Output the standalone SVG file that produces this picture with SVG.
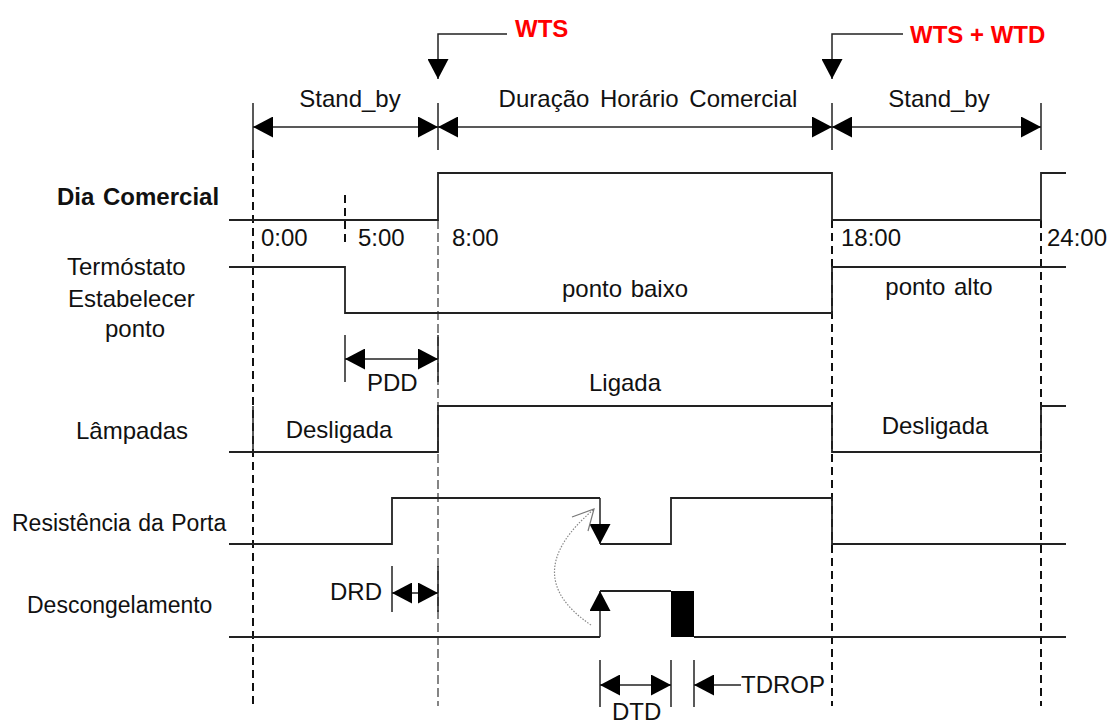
<svg xmlns="http://www.w3.org/2000/svg" width="1114" height="726" viewBox="0 0 1114 726">
<defs>
<marker id="ah" viewBox="0 0 20 21" refX="20" refY="10.5" markerWidth="20" markerHeight="21" markerUnits="userSpaceOnUse" orient="auto-start-reverse">
<path d="M0,0 L20,10.5 L0,21 z" fill="#000"/>
</marker>
</defs>
<style>
.t{font-family:"Liberation Sans",Arial,sans-serif;font-size:24px;fill:#111}
.s{font-size:23px}
.b{font-weight:bold}
.r{font-family:"Liberation Sans",Arial,sans-serif;font-size:24px;font-weight:bold;fill:#ff0000}
.w{fill:none;stroke:#222;stroke-width:1.8}
.d{fill:none;stroke:#111;stroke-width:2;stroke-dasharray:8 5}
.d2{fill:none;stroke:#444;stroke-width:1.3;stroke-dasharray:9 4}
.k{fill:none;stroke:#222;stroke-width:1.5}
.a{fill:none;stroke:#222;stroke-width:1.5;marker-start:url(#ah);marker-end:url(#ah)}
.a1{fill:none;stroke:#222;stroke-width:1.5;marker-end:url(#ah)}
</style>
<rect width="1114" height="726" fill="#fff"/>

<g id="gridlines">
<line class="d" x1="253" y1="150" x2="253" y2="706"/>
<line class="d" x1="345" y1="195" x2="345" y2="242"/>
<line class="d2" x1="438" y1="220" x2="438" y2="706"/>
<line class="d" x1="832" y1="220" x2="832" y2="706"/>
<line class="d" x1="1041" y1="220" x2="1041" y2="706"/>
</g>

<g id="dia-comercial">
<text class="t b" x="57" y="205" word-spacing="2">Dia Comercial</text>
<path class="w" d="M229,220 H438 V173 H832 V220 H1041 V173 H1066"/>
<text class="t" x="261" y="246">0:00</text>
<text class="t" x="358" y="246">5:00</text>
<text class="t" x="452" y="246">8:00</text>
<text class="t" x="841" y="246">18:00</text>
<text class="t" x="1047" y="246">24:00</text>
</g>

<g id="termostato">
<text class="t" x="67" y="275">Termóstato</text>
<text class="t" x="68" y="307">Estabelecer</text>
<text class="t" x="105" y="337">ponto</text>
<path class="w" d="M229,267 H345 V313 H832 V267 H1066"/>
<text class="t" x="625" y="297" text-anchor="middle" word-spacing="2">ponto baixo</text>
<text class="t" x="939" y="295" text-anchor="middle" word-spacing="2">ponto alto</text>
</g>

<g id="lampadas">
<text class="t" x="76" y="439">Lâmpadas</text>
<path class="w" d="M229,452 H438 V406 H832 V452 H1041 V406 H1066"/>
<line class="k" x1="253" y1="406" x2="253" y2="452"/>
<text class="t" x="339" y="438" text-anchor="middle">Desligada</text>
<text class="t" x="625" y="391" text-anchor="middle">Ligada</text>
<text class="t" x="935" y="434" text-anchor="middle">Desligada</text>
</g>

<g id="resistencia">
<text class="t s" x="12" y="531" word-spacing="1">Resistência da Porta</text>
<path class="w" d="M229,544 H392 V498 H600"/>
<path class="a1" d="M600,498 V544"/>
<path class="w" d="M600,544 H671 V498 H832 V544 H1066"/>
</g>

<g id="descongelamento">
<text class="t s" x="27" y="613">Descongelamento</text>
<path class="w" d="M229,637 H600"/>
<path class="a1" d="M600,637 V591"/>
<path class="w" d="M600,591 H671 M694,637 H1066"/>
<rect x="671" y="591" width="23" height="46" fill="#000"/>
</g>

<g id="connectors">
<line class="k" x1="253" y1="103" x2="253" y2="150"/>
<line class="k" x1="438" y1="103" x2="438" y2="150"/>
<line class="k" x1="832" y1="103" x2="832" y2="150"/>
<line class="k" x1="1041" y1="103" x2="1041" y2="150"/>
<line class="a" x1="253" y1="127" x2="438" y2="127"/>
<line class="a" x1="438" y1="127" x2="832" y2="127"/>
<line class="a" x1="832" y1="127" x2="1041" y2="127"/>
<text class="t" x="350" y="107" text-anchor="middle">Stand_by</text>
<text class="t" x="648" y="107" text-anchor="middle" word-spacing="4">Duração Horário Comercial</text>
<text class="t" x="939" y="107" text-anchor="middle">Stand_by</text>

<path class="a1" d="M507,34 H438 V79"/>
<text class="r" x="515" y="37">WTS</text>
<path class="a1" d="M903,34 H832 V79"/>
<text class="r" x="910" y="43">WTS + WTD</text>

<line class="k" x1="345" y1="335" x2="345" y2="382"/>
<line class="k" x1="438" y1="335" x2="438" y2="382"/>
<line class="a" x1="345" y1="359" x2="438" y2="359"/>
<text class="t" x="367" y="391">PDD</text>

<line class="k" x1="392" y1="566" x2="392" y2="612"/>
<line class="k" x1="438" y1="566" x2="438" y2="612"/>
<line class="a" x1="392" y1="593" x2="438" y2="593"/>
<text class="t" x="330" y="600">DRD</text>

<line class="k" x1="600" y1="660" x2="600" y2="707"/>
<line class="k" x1="671" y1="660" x2="671" y2="707"/>
<line class="k" x1="694" y1="660" x2="694" y2="707"/>
<line class="a" x1="600" y1="685" x2="671" y2="685"/>
<text class="t" x="612" y="720" font-size="22">DTD</text>
<line class="a1" x1="741" y1="685" x2="694" y2="685"/>
<text class="t" x="741" y="693">TDROP</text>

<path d="M591,625 Q517,575 593,510" fill="none" stroke="#888" stroke-width="1.2" stroke-dasharray="1.5 1.5"/>
<path d="M572,517 L594,509 L588,531" fill="none" stroke="#777" stroke-width="1.2"/>
</g>
</svg>
